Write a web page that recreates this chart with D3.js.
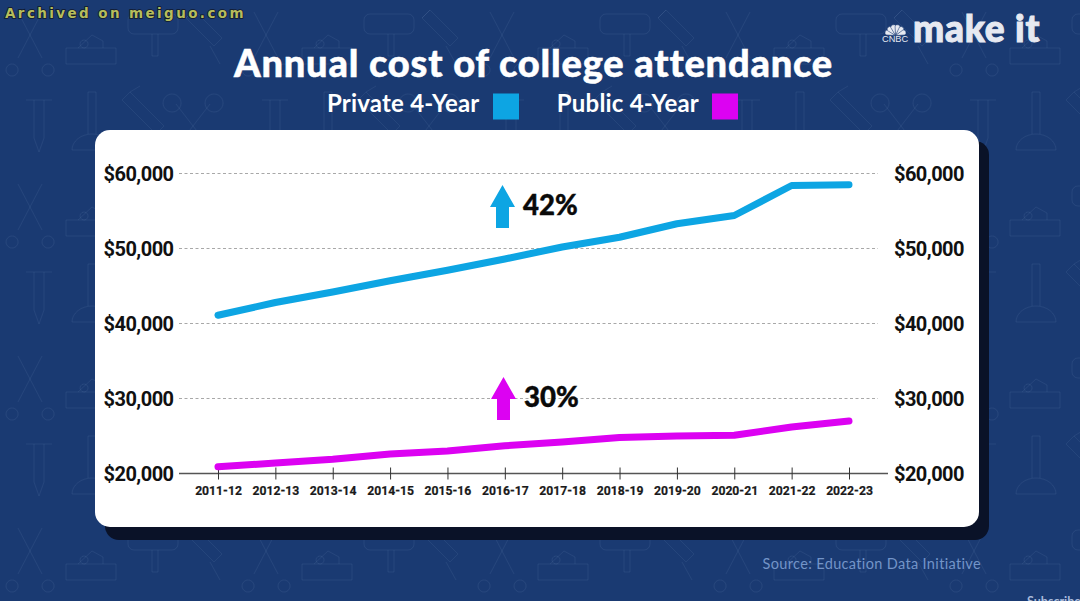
<!DOCTYPE html>
<html>
<head>
<meta charset="utf-8">
<script src="https://cdn.jsdelivr.net/npm/d3@7"></script>
<style>
  html, body { margin: 0; padding: 0; background: #1a3a72; overflow: hidden; }
  svg { display: block; }
</style>
</head>
<body>
<section></section>
<script>
const years = ["2011-12", "2012-13", "2013-14", "2014-15", "2015-16", "2016-17",
    "2017-18", "2018-19", "2019-20", "2020-21", "2021-22", "2022-23"];
const privateCost = [41100, 42800, 44200, 45700, 47100, 48600, 50200, 51500, 53300, 54400, 58400, 58500];
const publicCost = [20900, 21400, 21900, 22600, 23000, 23700, 24200, 24800, 25000, 25100, 26200, 27000];
const yTicks = [20000, 30000, 40000, 50000, 60000];
const legendItems = ["Private 4-Year", "Public 4-Year"];

const width = 1080;
const height = 601;
const blue = "#0da5e3";
const purple = "#dc02f2";

const x = d3.scalePoint().domain(years).range([218, 849]);
const y = d3.scaleLinear().domain([20000, 60000]).range([473.5, 173.5]);

const svg = d3.select("section")
    .append("svg")
    .attr("width", width)
    .attr("height", height)
    .attr("viewBox", [0, 0, width, height]);

// Faint tool doodles behind everything
const defs = svg.append("defs");
const pattern = defs.append("pattern")
    .attr("id", "tools")
    .attr("patternUnits", "userSpaceOnUse")
    .attr("width", 236)
    .attr("height", 172)
    .append("g")
    .attr("fill", "none")
    .attr("stroke", "#8aa6d6")
    .attr("stroke-opacity", 0.1)
    .attr("stroke-width", 1);
pattern.append("path").attr("d", "M18 12l24 46M42 12L18 58M12 64a6 6 0 1 0 .1 0M48 64a6 6 0 1 0 .1 0");
pattern.append("path").attr("d", "M66 48h50v16H66zM78 48l14-13 11 6v7M84 40a4 4 0 1 0 .1 0");
pattern.append("path").attr("d", "M134 14h38a6 6 0 0 1 6 6v8a6 6 0 0 1-6 6h-38a6 6 0 0 1-6-6v-8a6 6 0 0 1 6-6zM152 34v22h6V34");
pattern.append("path").attr("d", "M194 10l28 28-8 8-28-28zM186 18l8-8M210 46l10 18");
pattern.append("path").attr("d", "M26 100h26M34 100v38l5 14 5-14v-38");
pattern.append("path").attr("d", "M72 150a20 16 0 0 1 40 0zM88 134V92h8v42");
pattern.append("path").attr("d", "M130 92l34 34-8 8-34-34zM130 92l10-6");
pattern.append("path").attr("d", "M176 104l34 44M210 104l-34 44M172 94a9 9 0 1 0 .1 0M214 94a9 9 0 1 0 .1 0");
svg.append("rect").attr("width", width).attr("height", height).attr("fill", "#1a3a72");
svg.append("rect").attr("width", width).attr("height", height).attr("fill", "url(#tools)");

// Card and its hard shadow
svg.append("rect").attr("x", 105).attr("y", 141).attr("width", 884).attr("height", 399)
    .attr("rx", 14).attr("fill", "#0a1228");
svg.append("rect").attr("x", 95).attr("y", 130).attr("width", 884).attr("height", 397)
    .attr("rx", 15).attr("fill", "#fff");

// Title and legend
svg.append("text")
    .attr("x", 533.5).attr("y", 77)
    .attr("text-anchor", "middle")
    .attr("font-family", "Lato")
    .attr("font-weight", 900)
    .attr("font-size", 38)
    .attr("letter-spacing", 0.8)
    .attr("fill", "#fff")
    .attr("stroke", "#fff")
    .attr("stroke-width", 0.5)
    .text("Annual cost of college attendance");

const legend = svg.append("g")
    .attr("font-family", "Lato")
    .attr("font-weight", 700)
    .attr("font-size", 24)
    .attr("letter-spacing", 0.2)
    .attr("fill", "#fff");
legend.selectAll("text")
    .data(legendItems)
    .join("text")
    .attr("x", (d, i) => i ? 699 : 479.5)
    .attr("y", 112)
    .attr("text-anchor", "end")
    .text(d => d);
legend.selectAll("rect")
    .data([blue, purple])
    .join("rect")
    .attr("x", (d, i) => i ? 712 : 493)
    .attr("y", 93.5)
    .attr("width", 26)
    .attr("height", 26)
    .attr("fill", d => d);

// Gridlines for the upper ticks
svg.append("g")
    .selectAll("line")
    .data(yTicks.slice(1))
    .join("line")
    .attr("x1", 179)
    .attr("x2", 878)
    .attr("y1", d => y(d))
    .attr("y2", d => y(d))
    .attr("stroke", "#a8a8a8")
    .attr("stroke-width", 1)
    .attr("stroke-dasharray", "3 2.5");

// Baseline runs a bit past the scale on both sides
svg.append("line")
    .attr("x1", 179).attr("x2", 888)
    .attr("y1", y(20000)).attr("y2", y(20000))
    .attr("stroke", "#555").attr("stroke-width", 1.3);

const xAxis = svg.append("g")
    .attr("transform", `translate(0,${y(20000)})`)
    .call(d3.axisBottom(x).tickSize(6).tickPadding(7));
xAxis.select(".domain").remove();
xAxis.selectAll(".tick line")
    .attr("y1", -6)
    .attr("y2", 6)
    .attr("stroke", "#333")
    .attr("stroke-width", 1);
xAxis.selectAll(".tick text")
    .attr("font-family", "Roboto")
    .attr("font-weight", 700)
    .attr("font-size", 12.2)
    .attr("fill", "#1a1a1a")
    .attr("stroke", "#1a1a1a")
    .attr("stroke-width", 0.2);

const money = d => "$" + d3.format(",")(d);
for (const [axis, pos] of [[d3.axisLeft, 173.5], [d3.axisRight, 894]]) {
    const g = svg.append("g")
        .attr("transform", `translate(${pos},0.3)`)
        .call(axis(y).tickValues(yTicks).tickFormat(money).tickSize(0).tickPadding(0));
    g.select(".domain").remove();
    g.selectAll(".tick text")
        .attr("font-family", "Roboto")
        .attr("font-weight", 700)
        .attr("font-size", 20)
        .attr("letter-spacing", -0.55)
        .attr("fill", "#111");
}

// Series lines
const line = d3.line().x((d, i) => x(years[i])).y(d => y(d));
svg.append("g")
    .attr("fill", "none")
    .attr("stroke-width", 7)
    .attr("stroke-linecap", "round")
    .attr("stroke-linejoin", "round")
    .selectAll("path")
    .data([[privateCost, blue], [publicCost, purple]])
    .join("path")
    .attr("d", d => line(d[0]))
    .attr("stroke", d => d[1]);

// Growth callouts
const callouts = svg.append("g")
    .selectAll("g")
    .data([{ label: "42%", color: blue, top: 185, cx: 502.5 }, { label: "30%", color: purple, top: 377, cx: 503.5 }])
    .join("g")
    .attr("transform", d => `translate(${d.cx},${d.top})`);
callouts.append("path")
    .attr("d", "M0 0L12.5 22H6.5V43H-6.5V22H-12.5Z")
    .attr("fill", d => d.color);
callouts.append("text")
    .attr("x", 20.5)
    .attr("y", 30)
    .attr("font-family", "Lato")
    .attr("font-weight", 900)
    .attr("font-size", 27.5)
    .attr("fill", "#0a0a0a")
    .attr("stroke", "#0a0a0a")
    .attr("stroke-width", 0.4)
    .text(d => d.label);

// CNBC make it logo
const logo = svg.append("g").attr("fill", "#e6e9f1");
logo.append("text")
    .attr("x", 913).attr("y", 42)
    .attr("font-family", "Lato")
    .attr("font-weight", 900)
    .attr("font-size", 37)
    .attr("letter-spacing", 0.8)
    .attr("stroke", "#e6e9f1")
    .attr("stroke-width", 1)
    .text("make it");
logo.append("text")
    .attr("x", 882).attr("y", 42)
    .attr("font-family", "Liberation Sans")
    .attr("font-size", 9.2)
    .text("CNBC");
logo.selectAll("path")
    .data(d3.range(6))
    .join("path")
    .attr("transform", d => `translate(895.5,35.5) rotate(${-70 + d * 28})`)
    .attr("d", "M0 0L-2.7 -9A2.8 2.8 0 0 1 2.7 -9Z")
    .attr("stroke", "#1a3a72")
    .attr("stroke-width", 0.5);

// Source, archive stamp and the clipped subscribe text
svg.append("text")
    .attr("x", 981).attr("y", 569)
    .attr("text-anchor", "end")
    .attr("font-family", "Lato")
    .attr("font-size", 14.5)
    .attr("letter-spacing", 0.35)
    .attr("fill", "#7394c8")
    .text("Source: Education Data Initiative");
svg.append("text")
    .attr("x", 5).attr("y", 18)
    .attr("font-family", "DejaVu Sans")
    .attr("font-weight", 700)
    .attr("font-size", 13.5)
    .attr("letter-spacing", 2.4)
    .attr("fill", "#b6bd5c")
    .attr("stroke", "#10182a")
    .attr("stroke-width", 1.6)
    .attr("paint-order", "stroke")
    .text("Archived on meiguo.com");
svg.append("text")
    .attr("x", 1027).attr("y", 606)
    .attr("font-family", "Lato")
    .attr("font-weight", 700)
    .attr("font-size", 12.5)
    .attr("fill", "#a9bbdc")
    .text("Subscribe");
</script>
</body>
</html>
